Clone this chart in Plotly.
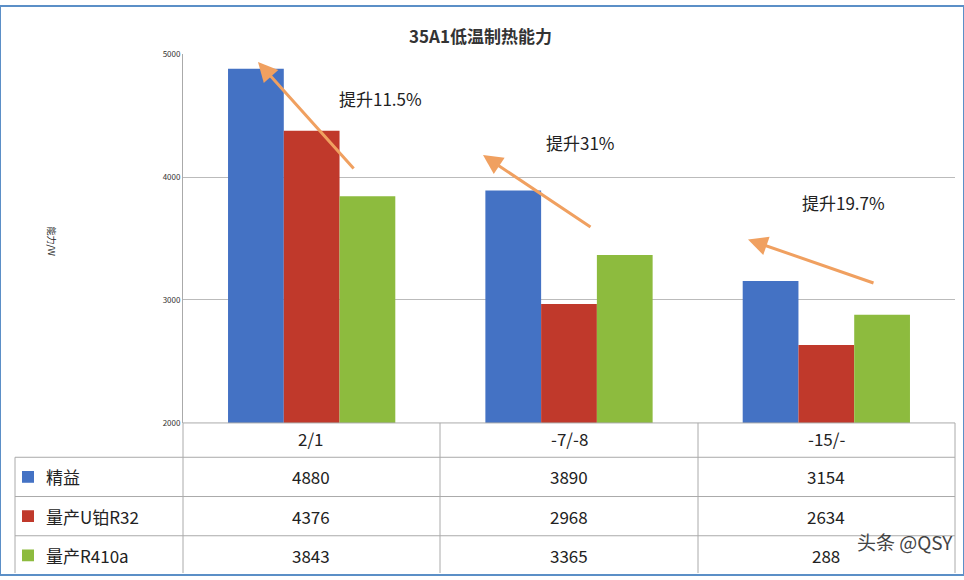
import plotly.graph_objects as go

categories = ["2/1", "-7/-8", "-15/-"]
series_names = ["精益", "量产U铂R32", "量产R410a"]
jingyi = [4880, 3890, 3154]
r32 = [4376, 2968, 2634]
r410a = [3843, 3365, 2880]
table_text = [["4880", "3890", "3154"], ["4376", "2968", "2634"], ["3843", "3365", "288"]]
colors = ["#4472c4", "#c0392b", "#8dbb3e"]
y_ticks = [2000, 3000, 4000, 5000]

W, H = 964, 580
def px(x): return x / W
def py(y): return 1 - y / H

fig = go.Figure()
for name, vals, c in zip(series_names, [jingyi, r32, r410a], colors):
    fig.add_trace(go.Bar(x=categories, y=vals, name=name, marker=dict(color=c, line=dict(width=0))))

fig.update_layout(
    width=W, height=H, margin=dict(l=0, r=0, t=0, b=0),
    paper_bgcolor="white", plot_bgcolor="white", showlegend=False,
    barmode="group", bargap=0.35, bargroupgap=0,
    font=dict(family="Noto Sans CJK SC", color="#222"),
    xaxis=dict(domain=[px(183), px(955)], showticklabels=False, showline=False, ticks=""),
    yaxis=dict(domain=[py(425), py(49)], range=[2000, 5000], tickvals=y_ticks,
               tickfont=dict(size=8, color="#333"), showgrid=True, gridcolor="#bbbbbb",
               showline=True, linecolor="#aaaaaa", ticks="", zeroline=False),
)

shapes = []
shapes.append(dict(type="rect", xref="paper", yref="paper", x0=0, x1=1, y0=0, y1=1,
                   line=dict(color="#5b8fc7", width=2)))
for y in [425, 460, 500, 540]:
    shapes.append(dict(type="line", xref="paper", yref="paper", x0=px(15) if y != 425 else px(183), x1=px(955),
                       y0=py(y), y1=py(y), line=dict(color="#aaaaaa", width=1)))
for x in [183, 440, 698, 955]:
    shapes.append(dict(type="line", xref="paper", yref="paper", x0=px(x), x1=px(x),
                       y0=py(425), y1=py(578), line=dict(color="#aaaaaa", width=1)))
shapes.append(dict(type="line", xref="paper", yref="paper", x0=px(15), x1=px(15),
                   y0=py(460), y1=py(578), line=dict(color="#aaaaaa", width=1)))
for i, c in enumerate(colors):
    yc = 480 + 40 * i
    shapes.append(dict(type="rect", xref="paper", yref="paper", x0=px(22), x1=px(34),
                       y0=py(yc + 6), y1=py(yc - 6), fillcolor=c, line=dict(width=0)))
fig.update_layout(shapes=shapes)

def txt(text, x, y, size=17, color="#222", xanchor="center", **kw):
    return dict(text=text, x=px(x), y=py(y), xref="paper", yref="paper", showarrow=False,
                xanchor=xanchor, yanchor="middle", font=dict(size=size, color=color), **kw)

ann = []
ann.append(txt("<b>35A1低温制热能力</b>", 480, 30, color="#333"))
ann.append(txt("能力/W", 52, 240, size=9, textangle=90))
col_x = [311, 569, 826]
for cx, cat in zip(col_x, categories):
    ann.append(txt(cat, cx, 441))
for i, (name, row) in enumerate(zip(series_names, table_text)):
    yc = 480 + 40 * i
    ann.append(txt(name, 44, yc, xanchor="left"))
    for cx, t in zip(col_x, row):
        ann.append(txt(t, cx, yc))
for (x0, y0, x1, y1) in [(355, 165, 258, 57), (592, 225, 483, 152), (875, 282, 748, 238)]:
    ann.append(dict(x=px(x1), y=py(y1), ax=x0 - x1, ay=y0 - y1, xref="paper", yref="paper",
                    axref="pixel", ayref="pixel", text="", showarrow=True, arrowhead=2,
                    arrowsize=1.3, arrowwidth=3, arrowcolor="#f0a060"))
for t, x, y in [("提升11.5%", 380, 94), ("提升31%", 580, 139), ("提升19.7%", 843, 200)]:
    ann.append(txt(t, x, y))
ann.append(txt("头条 @QSY", 905, 546, size=19, color="#444"))
fig.update_layout(annotations=ann)

fig.write_html("out.html", config={"displayModeBar": False},
               post_script="document.body.style.margin='0';document.body.style.overflow='hidden';")
